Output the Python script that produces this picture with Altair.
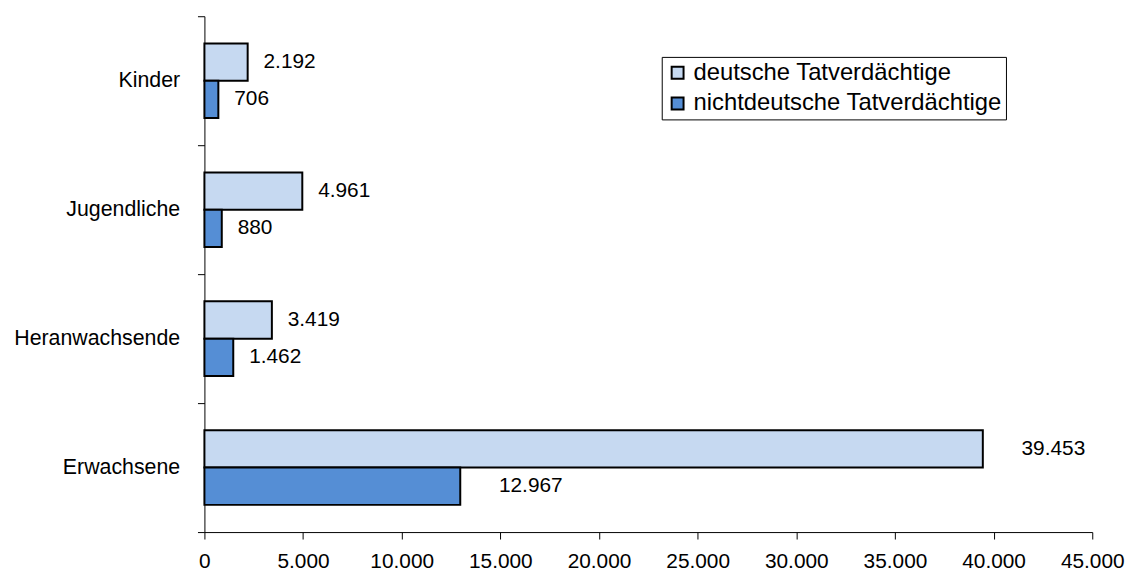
import altair as alt
import pandas as pd

categories = ["Kinder", "Jugendliche", "Heranwachsende", "Erwachsene"]
series = ["deutsche Tatverdächtige", "nichtdeutsche Tatverdächtige"]
deutsche = [2192, 4961, 3419, 39453]
nichtdeutsche = [706, 880, 1462, 12967]
x_ticks = [0, 5000, 10000, 15000, 20000, 25000, 30000, 35000, 40000, 45000]
colors = ["#C6D9F1", "#558ED5"]

rows = []
for c, d, n in zip(categories, deutsche, nichtdeutsche):
    rows.append({"Gruppe": c, "Serie": series[0], "Wert": d})
    rows.append({"Gruppe": c, "Serie": series[1], "Wert": n})
df = pd.DataFrame(rows)

FONT = "Liberation Sans, Arial, sans-serif"
FS = 21

y_enc = alt.Y(
    "Gruppe:N", sort=categories,
    scale=alt.Scale(paddingInner=0, paddingOuter=0),
    axis=alt.Axis(title=None, tickBand="extent", tickSize=7, tickColor="black",
                  domainColor="black", labelColor="black", labelFont=FONT,
                  labelFontSize={"condition": {"test": "datum.label == ''", "value": 0}, "value": 21.5},
                  labelPadding=18),
)
yoff = alt.YOffset("Serie:N", sort=series,
                   scale=alt.Scale(paddingInner=0, paddingOuter=0.73))
x_enc = alt.X(
    "Wert:Q", scale=alt.Scale(domain=[0, 45000], nice=False),
    axis=alt.Axis(title=None, values=x_ticks, grid=False, labelFlush=False,
                  labelExpr="replace(format(datum.value, ','), ',', '.')",
                  tickSize=7, tickColor="black", domainColor="black",
                  labelColor="black", labelFont=FONT, labelFontSize=FS,
                  labelPadding=12),
)

base = alt.Chart(df).transform_calculate(
    label="replace(format(datum.Wert, ','), ',', '.')"
)

bars = base.mark_bar(stroke="black", strokeWidth=2).encode(
    x=x_enc, y=y_enc, yOffset=yoff,
    color=alt.Color("Serie:N", sort=series,
                    scale=alt.Scale(domain=series, range=colors),
                    legend=alt.Legend(
                        title=None, orient="none", legendX=461, legendY=41,
                        strokeColor="black", fillColor="white", padding=4,
                        symbolType="square", symbolSize=144,
                        symbolStrokeColor="black", symbolStrokeWidth=2,
                        labelFont=FONT, labelFontSize=24, labelColor="black",
                        labelOffset=4, rowPadding=7, labelLimit=400)),
)

text_small = base.transform_filter("datum.Gruppe != 'Erwachsene'").mark_text(
    align="left", baseline="middle", dx=16, font=FONT, fontSize=FS, color="black"
).encode(x="Wert:Q", y=alt.Y("Gruppe:N", sort=categories),
         yOffset=alt.YOffset("Serie:N", sort=series), text="label:N")

text_big = base.transform_filter("datum.Gruppe == 'Erwachsene'").mark_text(
    align="left", baseline="middle", dx=39, font=FONT, fontSize=FS, color="black"
).encode(x="Wert:Q", y=alt.Y("Gruppe:N", sort=categories),
         yOffset=alt.YOffset("Serie:N", sort=series), text="label:N")

chart = alt.layer(bars, text_small, text_big).properties(
    width=895, height=520,
    padding={"left": 5, "top": 5, "right": 0, "bottom": 5},
).configure_view(stroke=None)

chart.save("out.html", embed_options={"renderer": "svg", "actions": False})
